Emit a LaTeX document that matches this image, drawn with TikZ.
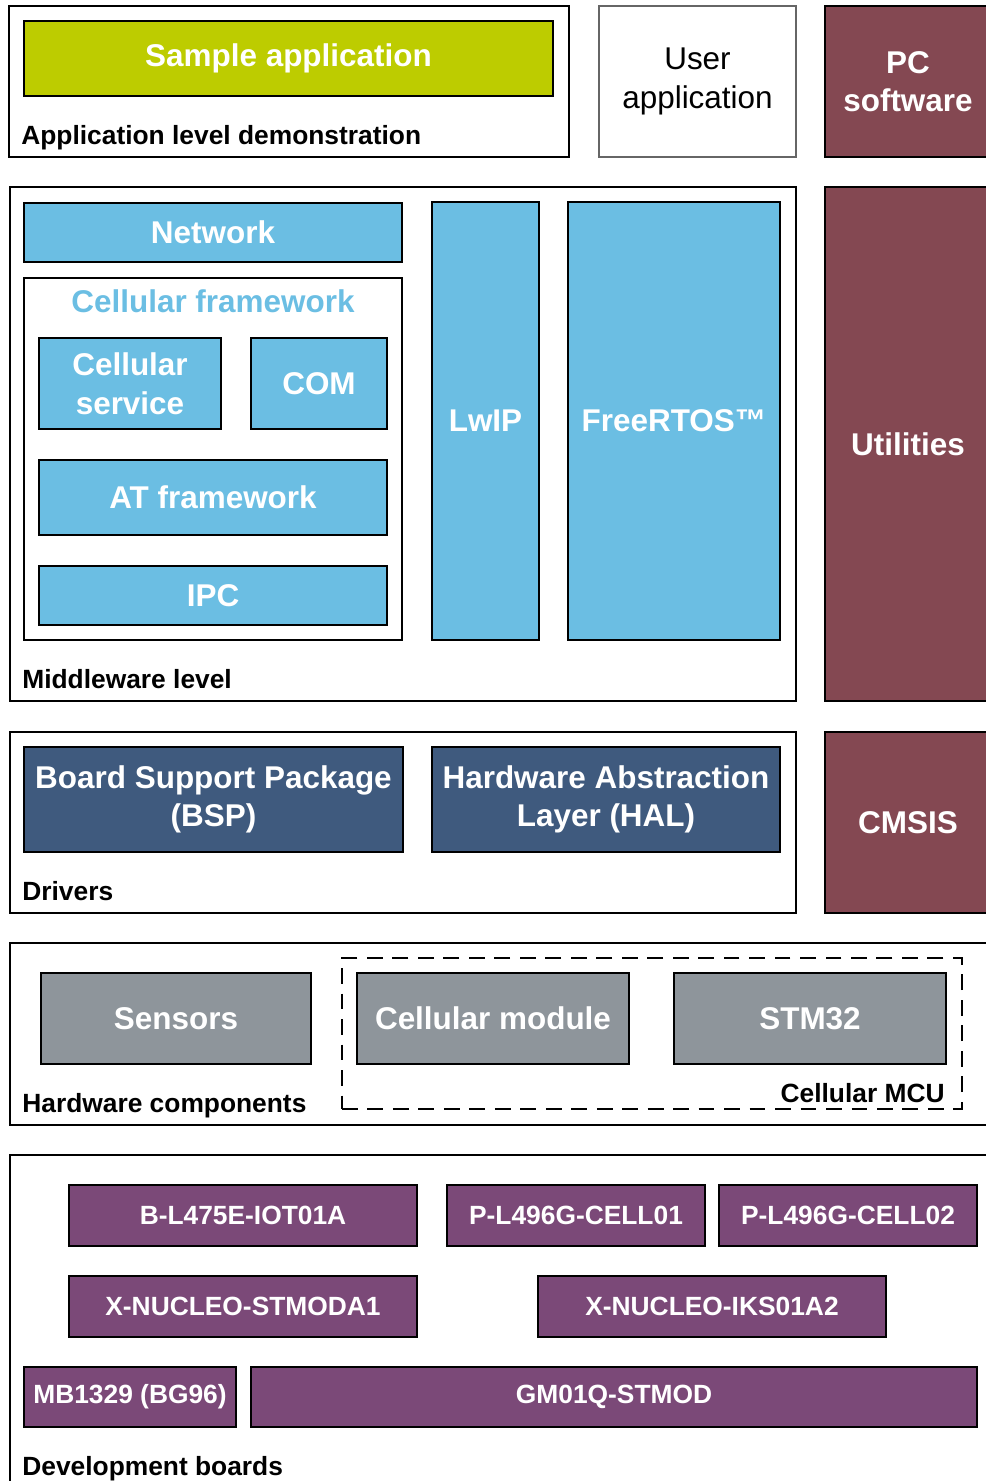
\documentclass[tikz,border=0pt]{standalone}
\usepackage{fontspec}
\setmainfont{Liberation Sans}
\usepackage{tikz}

\definecolor{stlime}{HTML}{BDCC00}
\definecolor{stsky}{HTML}{6BBEE3}
\definecolor{stwine}{HTML}{844852}
\definecolor{stnavy}{HTML}{3F5A7E}
\definecolor{stgrey}{HTML}{8E959B}
\definecolor{stplum}{HTML}{7B4978}

\newcommand{\blockfont}{\fontsize{17.9}{22}\selectfont\bfseries}
\newcommand{\levelfont}{\fontsize{15}{18}\selectfont\bfseries}

% box with its top left corner at (#3,#4), width #5 and height #6 (pixels)
\newcommand{\layerbox}[7]{
    \node[#2, anchor=north west, minimum width=#5*0.02cm, minimum height=#6*0.02cm] (#1) at (#3,#4) {#7};
}

\begin{document}
\begin{tikzpicture}[x=0.02cm, y=-0.02cm,
    levelframe/.style={draw, line width=1.1pt, inner sep=0pt, outer sep=0pt},
    block/.style={levelframe, text=white, font=\blockfont, align=center},
    sample/.style={block, fill=stlime},
    sky/.style={block, fill=stsky},
    wine/.style={block, fill=stwine},
    navy/.style={block, fill=stnavy},
    grey/.style={block, fill=stgrey},
    plum/.style={block, fill=stplum, font=\levelfont},
    userbox/.style={levelframe, draw=black!60, font=\fontsize{17.9}{22}\selectfont, align=center},
    levellabel/.style={font=\levelfont, inner sep=0pt, anchor=base west}]
  \useasboundingbox (0,0) rectangle (986,1481);
  \clip (0,0) rectangle (986,1481);

  % Application level
  \layerbox{appLevel}{levelframe}{9}{6}{560}{151}{}
  \layerbox{sample}{sample}{24}{21}{529}{75}{Sample application}
  \node[levellabel] (appLabel) at (21,144.5) {Application level demonstration};
  \layerbox{user}{userbox}{599}{6}{197}{151}{User\\application}
  \layerbox{pcsw}{wine}{825}{6}{166}{151}{PC\\software}

  % Middleware level
  \layerbox{mwLevel}{levelframe}{10}{187}{786}{514}{}
  \layerbox{network}{sky}{24}{203}{378}{59}{Network}
  \layerbox{cellfw}{levelframe}{24}{278}{378}{362}{}
  \node[font=\blockfont, text=stsky, inner sep=0pt, anchor=base] (cellfwLabel) at (213,312) {Cellular framework};
  \layerbox{cellsvc}{sky}{39}{338}{182}{91}{Cellular\\service}
  \layerbox{com}{sky}{251}{338}{136}{91}{COM}
  \layerbox{atfw}{sky}{39}{460}{348}{75}{AT framework}
  \layerbox{ipc}{sky}{39}{566}{348}{59}{IPC}
  \layerbox{lwip}{sky}{432}{202}{107}{438}{LwIP}
  \layerbox{freertos}{sky}{568}{202}{212}{438}{FreeRTOS™}
  \node[levellabel] (mwLabel) at (22,688.5) {Middleware level};
  \layerbox{utilities}{wine}{825}{187}{166}{514}{Utilities}

  % Drivers
  \layerbox{drvLevel}{levelframe}{10}{732}{786}{181}{}
  \layerbox{bsp}{navy}{24}{747}{379}{105}{Board Support Package\\(BSP)}
  \layerbox{hal}{navy}{432}{747}{348}{105}{Hardware Abstraction\\Layer (HAL)}
  \node[levellabel] (drvLabel) at (22,900) {Drivers};
  \layerbox{cmsis}{wine}{825}{732}{166}{181}{CMSIS}

  % Hardware components
  \layerbox{hwLevel}{levelframe}{10}{943}{990}{182}{}
  \layerbox{cellMcu}{levelframe, dash pattern=on 9pt off 5.5pt}{342}{958}{620}{151}{}
  \layerbox{sensors}{grey}{41}{973}{270}{91}{Sensors}
  \layerbox{cellmod}{grey}{357}{973}{272}{91}{Cellular module}
  \layerbox{stm32}{grey}{674}{973}{272}{91}{STM32}
  \node[levellabel] (hwLabel) at (22,1112) {Hardware components};
  \node[levellabel, anchor=base east] (mcuLabel) at (945,1102) {Cellular MCU};

  % Development boards
  \layerbox{devLevel}{levelframe}{10}{1155}{990}{360}{}
  \layerbox{bl475}{plum}{69}{1185}{348}{61}{B-L475E-IOT01A}
  \layerbox{cell01}{plum}{447}{1185}{258}{61}{P-L496G-CELL01}
  \layerbox{cell02}{plum}{719}{1185}{258}{61}{P-L496G-CELL02}
  \layerbox{stmoda}{plum}{69}{1276}{348}{61}{X-NUCLEO-STMODA1}
  \layerbox{iks}{plum}{538}{1276}{348}{61}{X-NUCLEO-IKS01A2}
  \layerbox{mb1329}{plum}{24}{1367}{212}{60}{MB1329 (BG96)}
  \layerbox{gm01q}{plum}{251}{1367}{726}{60}{GM01Q-STMOD}
  \node[levellabel] (devLabel) at (22,1475) {Development boards};
\end{tikzpicture}
\end{document}
